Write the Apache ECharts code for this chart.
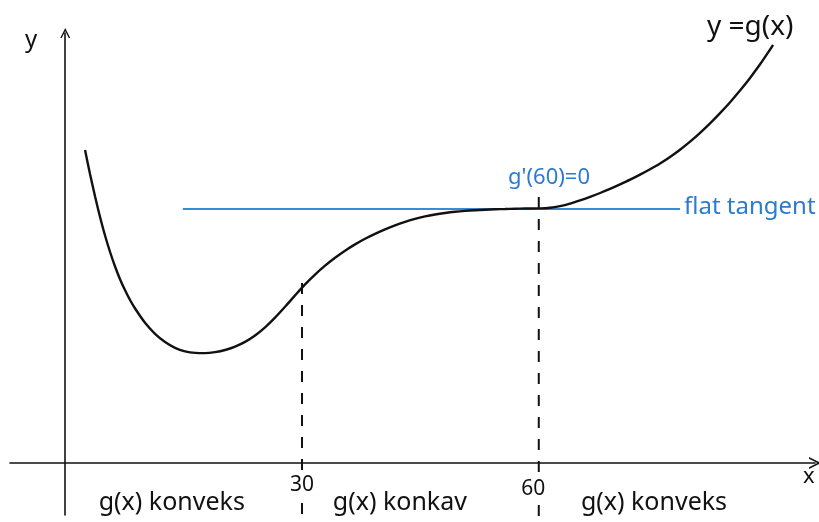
<!DOCTYPE html>
<html>
<head>
<meta charset="utf-8">
<script src="https://cdn.jsdelivr.net/npm/echarts@6/dist/echarts.min.js"></script>
<style>
html, body { margin: 0; padding: 0; background: #fff; }
#chart { width: 819px; height: 522px; }
</style>
</head>
<body>
<div id="chart"></div>
<script>
// g(x)
const curveX = [2.51, 3.14, 3.78, 4.41, 5.04, 5.68, 6.31, 6.94, 7.58, 8.21, 8.85, 10.11, 11.38, 12.65, 13.91, 15.18, 16.45, 17.71, 18.98, 20.25, 21.52, 22.78, 24.05, 25.32, 26.58, 27.85, 29.12, 30.39, 31.65, 32.92, 34.19, 35.45, 36.72, 37.99, 39.25, 40.52, 41.79, 43.06, 44.32, 45.59, 46.86, 48.12, 49.39, 50.66, 51.93, 53.19, 54.46, 55.73, 56.99, 58.26, 60.16, 61.43, 62.70, 63.96, 65.23, 66.50, 67.77, 69.03, 70.30, 71.57, 72.83, 74.10, 75.37, 76.63, 77.90, 79.17, 80.44, 81.70, 82.97, 84.24, 85.50, 86.77, 88.04, 89.31, 89.69];
const curveY = [31.30, 28.89, 26.65, 24.60, 22.75, 21.10, 19.65, 18.38, 17.27, 16.30, 15.45, 14.02, 12.92, 12.10, 11.52, 11.17, 11.01, 10.99, 11.09, 11.30, 11.64, 12.11, 12.75, 13.56, 14.53, 15.62, 16.76, 17.86, 18.84, 19.73, 20.52, 21.23, 21.86, 22.42, 22.91, 23.36, 23.77, 24.12, 24.42, 24.66, 24.85, 25.00, 25.12, 25.21, 25.28, 25.33, 25.37, 25.40, 25.43, 25.45, 25.46, 25.52, 25.69, 25.94, 26.26, 26.61, 27.00, 27.41, 27.86, 28.33, 28.84, 29.38, 29.96, 30.61, 31.33, 32.13, 33.01, 33.96, 34.99, 36.08, 37.25, 38.51, 39.87, 41.35, 41.82];

// flat tangent at x = 60
const tangentX = [14.9, 77.9];
const tangentY = 25.4;

// dashed markers at 30 and 60
const markX = [30, 60];
const markTop = [18.0, 26.6];
const markBottom = -5.8;
const markLabels = ["30", "60"];
const markLabelX = [30, 59.3];
const markLabelY = [-2.2, -2.6];

// region labels under the x axis
const regionNames = ["g(x) konveks", "g(x) konkav", "g(x) konveks"];
const regionX = [13.5, 42.4, 74.6];
const regionY = -4.0;

const chart = echarts.init(document.getElementById("chart"));
const font = "Noto Sans";
const ink = "#111";
const blue = "#2b7bd2";
const chevron = "path://M0,10 L5,0 L10,10 L8.5,10 L5,3 L1.5,10 Z";

const dashSeries = markX.map((x, i) => ({
  type: "line",
  clip: false,
  symbol: "none",
  silent: true,
  data: [[x, markTop[i]], [x, markBottom]],
  lineStyle: { color: ink, width: 2, type: [11, 11] },
}));

const textSeries = (names, xs, ys, style) => ({
  type: "scatter",
  clip: false,
  silent: true,
  symbolSize: 0,
  z: 5,
  itemStyle: { opacity: 1 },
  data: names.map((n, i) => ({ name: n, value: [xs[i], Array.isArray(ys) ? ys[i] : ys] })),
  label: Object.assign({ show: true, position: "inside", formatter: "{b}", color: ink, fontFamily: font }, style),
});

const option = {
  backgroundColor: "#fff",
  animation: false,
  grid: { left: 10, right: 4, top: 33, bottom: 7, outerBoundsMode: "none", containLabel: false },
  xAxis: {
    type: "value",
    min: -7,
    max: 95,
    splitLine: { show: false },
    axisLine: {
      onZero: true,
      lineStyle: { color: ink, width: 1.6 },
      symbol: ["none", chevron],
      symbolSize: [16, 12],
    },
    axisTick: { show: false },
    axisLabel: { show: false },
  },
  yAxis: {
    type: "value",
    min: -5.2,
    max: 43,
    splitLine: { show: false },
    axisLine: {
      onZero: true,
      lineStyle: { color: ink, width: 1.6 },
      symbol: ["none", chevron],
      symbolSize: [17, 10],
    },
    axisTick: { show: false },
    axisLabel: { show: false },
  },
  series: [
    {
      type: "line",
      symbol: "none",
      smooth: 0.3,
      data: curveX.map((x, i) => [x, curveY[i]]),
      lineStyle: { color: ink, width: 2.4 },
    },
    {
      type: "line",
      symbol: "none",
      data: tangentX.map((x) => [x, tangentY]),
      lineStyle: { color: "#3a8ad6", width: 2 },
      z: 1,
    },
    ...dashSeries,
    textSeries(regionNames, regionX, regionY, { fontSize: 25 }),
    textSeries(markLabels, markLabelX, markLabelY, { fontSize: 21, backgroundColor: "#fff", padding: [0, 1] }),
  ],
  graphic: [
    { type: "text", left: 25, top: 28, style: { text: "y", font: "24px " + font, fill: ink } },
    { type: "text", left: 803, top: 466, style: { text: "x", font: "22px " + font, fill: ink } },
    { type: "text", left: 707, top: 13, style: { text: "y =g(x)", font: "28px " + font, fill: ink } },
    { type: "text", left: 508, top: 167, style: { text: "g'(60)=0", font: "22px " + font, fill: blue } },
    { type: "text", left: 684, top: 195, style: { text: "flat tangent", font: "24px " + font, fill: blue } },
  ],
};

chart.setOption(option);
</script>
</body>
</html>
